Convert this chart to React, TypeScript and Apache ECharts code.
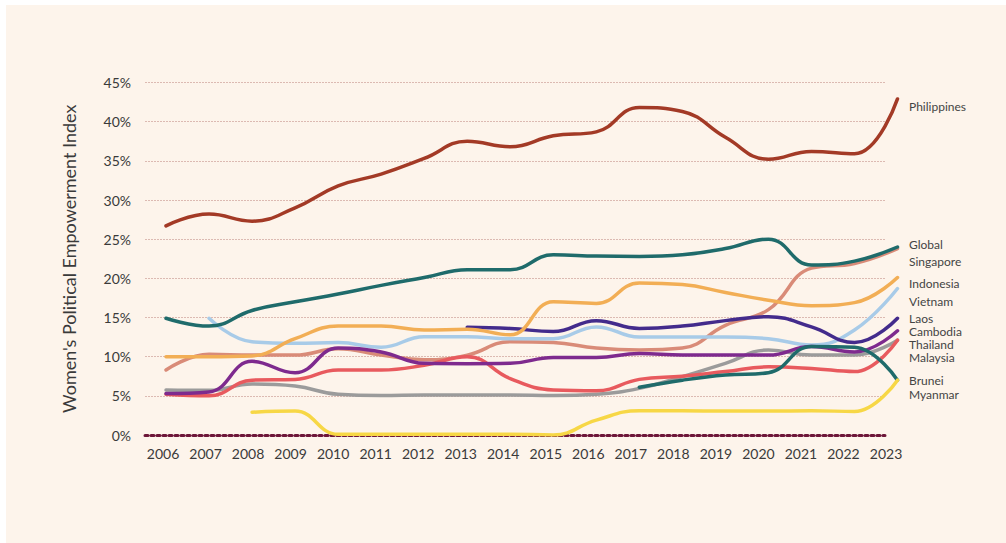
import React, { useEffect, useRef } from "react";
import * as echarts from "echarts";

const years = ["2006","2007","2008","2009","2010","2011","2012","2013","2014","2015","2016","2017","2018","2019","2020","2021","2022","2023"];
const yTicks = [0, 5, 10, 15, 20, 25, 30, 35, 40, 45];

const philippines = [26.7, 28.2, 27.3, 29.0, 31.8, 33.3, 35.3, 37.5, 36.8, 38.2, 38.7, 41.8, 41.3, 38.0, 35.2, 36.2, 35.9, 42.9];
const globalIdx = [14.9, 13.9, 15.9, 17.0, 18.0, 19.1, 20.1, 21.1, 21.1, 23.0, 22.85, 22.8, 23.0, 23.8, 25.0, 21.7, 22.2, 24.0];
const singapore = [8.3, 10.3, 10.2, 10.2, 11.0, 10.2, 9.6, 10.2, 11.9, 11.8, 11.1, 10.85, 11.1, 14.0, 16.0, 21.3, 21.9, 23.8];
const indonesia = [10.0, 10.0, 10.1, 12.3, 13.9, 13.9, 13.4, 13.5, 12.8, 17.0, 16.8, 19.4, 19.2, 18.2, 17.2, 16.5, 16.9, 20.1];
const vietnam = [null, 14.9, 11.9, 11.7, 11.8, 11.2, 12.55, 12.55, 12.3, 12.3, 13.8, 12.5, 12.5, 12.5, 12.3, 11.5, 13.4, 18.7];
const laos = [null, null, null, null, null, null, null, 13.75, 13.6, 13.2, 14.6, 13.6, 13.9, 14.6, 15.1, 13.8, 11.8, 14.9];
const cambodia = [5.3, 5.5, 9.4, 7.95, 11.1, 10.6, 9.15, 9.1, 9.15, 9.9, 9.9, 10.4, 10.2, 10.2, 10.2, 11.3, 10.6, 13.3];
const thailand = [5.75, 5.7, 6.5, 6.25, 5.2, 5.05, 5.1, 5.1, 5.1, 5.05, 5.2, 5.95, 7.45, 9.15, 10.85, 10.2, 10.2, 12.1];
const malaysia = [5.2, 5.0, 7.0, 7.1, 8.3, 8.3, 8.9, 10.0, 7.2, 5.75, 5.65, 7.1, 7.5, 8.1, 8.7, 8.5, 8.1, 12.1];
const brunei = [null, null, null, null, null, null, null, null, null, null, null, 6.1, 7.0, 7.65, 7.95, 11.3, 11.2, 7.0];
const myanmar = [null, null, 2.9, 3.05, 0.1, 0.1, 0.1, 0.1, 0.1, 0.0, 1.9, 3.1, 3.1, 3.05, 3.05, 3.1, 3.0, 7.0];

const seriesDefs = [
  { name: "Thailand", data: thailand, color: "#9b9b9b", labelY: 344 },
  { name: "Singapore", data: singapore, color: "#d98b78", labelY: 261 },
  { name: "Vietnam", data: vietnam, color: "#a8cbe8", labelY: 301 },
  { name: "Malaysia", data: malaysia, color: "#e85a5e", labelY: 357 },
  { name: "Cambodia", data: cambodia, color: "#7e2a8e", labelY: 331 },
  { name: "Laos", data: laos, color: "#432b8c", labelY: 318 },
  { name: "Indonesia", data: indonesia, color: "#f2ae55", labelY: 283 },
  { name: "Brunei", data: brunei, color: "#1f6b6b", labelY: 380 },
  { name: "Myanmar", data: myanmar, color: "#f7d746", labelY: 394 },
  { name: "Global", data: globalIdx, color: "#1f6b6b", labelY: 244 },
  { name: "Philippines", data: philippines, color: "#a33a26", labelY: 106 },
];

const FONT = "Lato, 'Open Sans', sans-serif";

export default function App() {
  const ref = useRef<HTMLDivElement>(null);
  useEffect(() => {
    if (!ref.current) return;
    const chart = echarts.init(ref.current, undefined, { renderer: "svg" });
    const top = 82.5;
    const bottom = 108;
    chart.setOption({
      animation: false,
      backgroundColor: "#ffffff",
      textStyle: { fontFamily: FONT },
      grid: [
        { left: 166, right: 108.5, top, bottom },
        { left: 145, right: 121, top, bottom },
        { left: 163, right: 120, top, bottom },
      ],
      xAxis: [
        { gridIndex: 0, type: "category", data: years, boundaryGap: false, show: false },
        {
          gridIndex: 1, type: "value", min: 0, max: 1,
          axisLine: { show: true, lineStyle: { color: "#6d1639", width: 3, type: "dotted" } },
          axisTick: { show: false }, axisLabel: { show: false }, splitLine: { show: false },
        },
        {
          gridIndex: 2, type: "category", data: years, boundaryGap: false,
          axisLine: { show: false }, axisTick: { show: false }, splitLine: { show: false },
          axisLabel: { color: "#3a3a3a", fontSize: 14, fontFamily: FONT, margin: 11 },
        },
      ],
      yAxis: [
        { gridIndex: 0, type: "value", min: 0, max: 45, show: false },
        {
          gridIndex: 1, type: "value", min: 0, max: 45, interval: 5,
          name: "Women's Political Empowerment Index",
          nameLocation: "middle", nameGap: 67, nameRotate: 90,
          nameTextStyle: { color: "#3a3a3a", fontSize: 18, fontFamily: FONT },
          axisLine: { show: false }, axisTick: { show: false },
          axisLabel: { color: "#3a3a3a", fontSize: 14, fontFamily: FONT, margin: 14, formatter: (v: number) => (yTicks.includes(v) ? v + "%" : "") },
          splitLine: { show: true, lineStyle: { color: "#dcbab2", width: 1, type: [2, 1] } },
        },
        { gridIndex: 2, type: "value", min: 0, max: 45, show: false },
      ],
      series: seriesDefs.map((s) => ({
        name: s.name,
        type: "line",
        xAxisIndex: 0,
        yAxisIndex: 0,
        data: s.data,
        smooth: 0.45,
        symbol: "none",
        connectNulls: false,
        lineStyle: { color: s.color, width: 3.5, cap: "round", join: "round" },
        z: 3,
      })),
      graphic: [
        { type: "rect", shape: { x: 6, y: 5, width: 1000, height: 538 }, style: { fill: "#fdf4eb" }, z: -10, silent: true },
        ...seriesDefs.map((s) => ({
          type: "text",
          x: 909,
          y: s.labelY,
          style: { text: s.name, fill: "#444444", fontSize: 12, lineHeight: 11, fontFamily: FONT, verticalAlign: "middle", align: "left" },
          z: 10,
        })),
      ],
    });
    return () => chart.dispose();
  }, []);
  return <div ref={ref} style={{ position: "absolute", left: 0, top: 0, width: 1006, height: 543 }} />;
}
